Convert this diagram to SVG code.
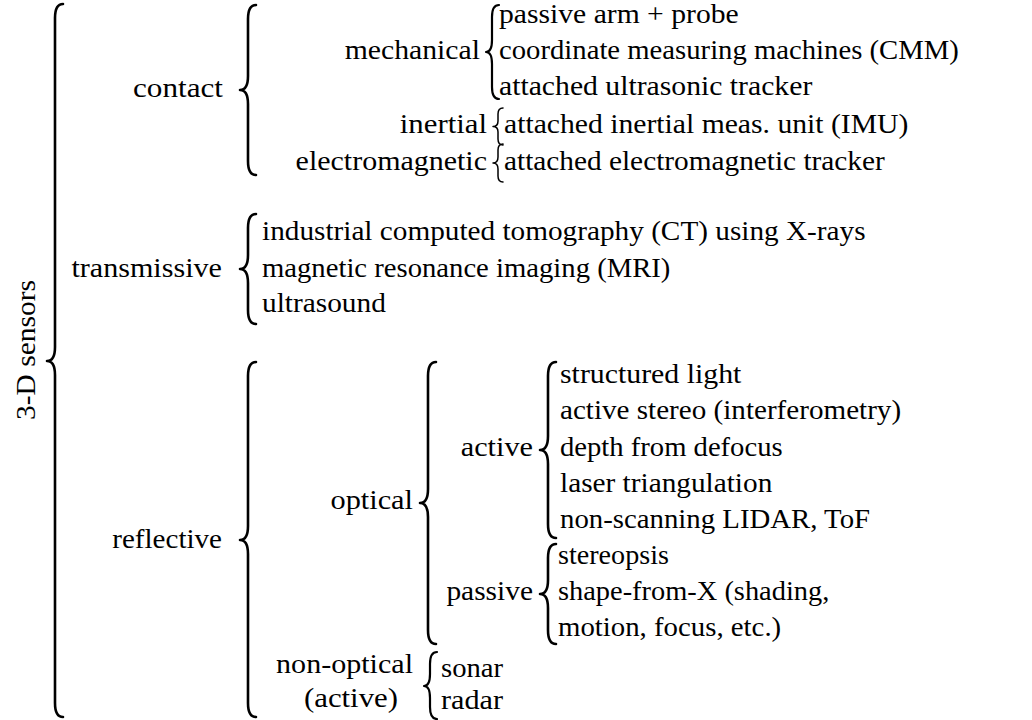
<svg xmlns="http://www.w3.org/2000/svg" width="1032" height="720" viewBox="0 0 1032 720">
<style>
.t text{font-family:'Liberation Serif','Times New Roman','DejaVu Serif',serif;font-size:27px;fill:#000}
.r{text-anchor:end}
.m{text-anchor:middle}
.b{fill:none;stroke:#000;stroke-width:2.6;stroke-linecap:round;stroke-linejoin:round}
.bm{fill:none;stroke:#000;stroke-width:2.2;stroke-linecap:round;stroke-linejoin:round}
.bs{fill:none;stroke:#000;stroke-width:1.5;stroke-linecap:round;stroke-linejoin:round}
</style>
<rect width="1032" height="720" fill="#fff"/>
<g id="connectors">
<path class="b" d="M63,4 Q55,4 55,18 L55,347 Q55,361 47,361 Q55,361 55,375 L55,703 Q55,717 63,717"/>
<path class="b" d="M256,5 Q248,5 248,19 L248,76 Q248,90 240,90 Q248,90 248,104 L248,161 Q248,175 256,175"/>
<path class="b" d="M256,214 Q248,214 248,228 L248,255 Q248,269 240,269 Q248,269 248,283 L248,310 Q248,324 256,324"/>
<path class="b" d="M256,362 Q248,362 248,376 L248,526 Q248,540 240,540 Q248,540 248,554 L248,703 Q248,717 256,717"/>
<path class="bm" d="M499,5 Q492,5 492,17 L492,40 Q492,52 486,52 Q492,52 492,64 L492,87 Q492,99 499,99"/>
<path class="bs" d="M503,108 Q498,108 498,114 L498,121 Q498,126.5 493,126.5 Q498,126.5 498,132 L498,139 Q498,145 503,145"/>
<path class="bs" d="M503,144 Q498,144 498,150 L498,157 Q498,163 493,163 Q498,163 498,169 L498,176 Q498,182 503,182"/>
<path class="b" d="M436,362 Q428,362 428,376 L428,489 Q428,503 420,503 Q428,503 428,517 L428,630 Q428,644 436,644"/>
<path class="b" d="M556,362 Q548,362 548,376 L548,436 Q548,450 540,450 Q548,450 548,464 L548,524 Q548,538 556,538"/>
<path class="b" d="M556,544 Q548,544 548,558 L548,580 Q548,594 540,594 Q548,594 548,608 L548,630 Q548,644 556,644"/>
<path class="bm" d="M437,652 Q430,652 430,664 L430,674 Q430,686 424,686 Q430,686 430,698 L430,707 Q430,719 437,719"/>
</g>
<g class="t">
<g id="n-3d"><text class="m" transform="translate(35,350) rotate(-90)" textLength="140" lengthAdjust="spacingAndGlyphs">3-D sensors</text></g>
<g id="n-contact"><text class="r" x="223" y="97" textLength="90" lengthAdjust="spacingAndGlyphs">contact</text></g>
<g id="n-transmissive"><text class="r" x="222" y="277" textLength="150.6" lengthAdjust="spacingAndGlyphs">transmissive</text></g>
<g id="n-reflective"><text class="r" x="222" y="548" textLength="109.7" lengthAdjust="spacingAndGlyphs">reflective</text></g>
<g id="n-mechanical"><text class="r" x="480" y="59" textLength="135.3" lengthAdjust="spacingAndGlyphs">mechanical</text></g>
<g id="n-inertial"><text class="r" x="487" y="133" textLength="87.2" lengthAdjust="spacingAndGlyphs">inertial</text></g>
<g id="n-electromagnetic"><text class="r" x="487" y="170" textLength="191.4" lengthAdjust="spacingAndGlyphs">electromagnetic</text></g>
<g id="n-optical"><text class="r" x="413" y="509" textLength="82.5" lengthAdjust="spacingAndGlyphs">optical</text></g>
<g id="n-active"><text class="r" x="533" y="456" textLength="72.3" lengthAdjust="spacingAndGlyphs">active</text></g>
<g id="n-passive"><text class="r" x="533" y="600" textLength="86.6" lengthAdjust="spacingAndGlyphs">passive</text></g>
<g id="n-nonoptical"><text class="r" x="413" y="673" textLength="136.9" lengthAdjust="spacingAndGlyphs">non-optical</text><text class="m" x="351" y="707" textLength="94.1" lengthAdjust="spacingAndGlyphs">(active)</text></g>
<g id="l-mech1"><text x="499" y="23" textLength="239.7" lengthAdjust="spacingAndGlyphs">passive arm + probe</text></g>
<g id="l-mech2"><text x="499" y="59" textLength="459.8" lengthAdjust="spacingAndGlyphs">coordinate measuring machines (CMM)</text></g>
<g id="l-mech3"><text x="499" y="95" textLength="313.3" lengthAdjust="spacingAndGlyphs">attached ultrasonic tracker</text></g>
<g id="l-imu"><text x="504" y="133" textLength="404.4" lengthAdjust="spacingAndGlyphs">attached inertial meas. unit (IMU)</text></g>
<g id="l-em"><text x="504" y="170" textLength="380.8" lengthAdjust="spacingAndGlyphs">attached electromagnetic tracker</text></g>
<g id="l-ct"><text x="262" y="240" textLength="603.6" lengthAdjust="spacingAndGlyphs">industrial computed tomography (CT) using X-rays</text></g>
<g id="l-mri"><text x="262" y="277" textLength="408.4" lengthAdjust="spacingAndGlyphs">magnetic resonance imaging (MRI)</text></g>
<g id="l-us"><text x="262" y="312" textLength="123.9" lengthAdjust="spacingAndGlyphs">ultrasound</text></g>
<g id="l-sl"><text x="560" y="383" textLength="181.4" lengthAdjust="spacingAndGlyphs">structured light</text></g>
<g id="l-as"><text x="560" y="419" textLength="341.1" lengthAdjust="spacingAndGlyphs">active stereo (interferometry)</text></g>
<g id="l-dfd"><text x="560" y="456" textLength="222.6" lengthAdjust="spacingAndGlyphs">depth from defocus</text></g>
<g id="l-lt"><text x="560" y="492" textLength="212.3" lengthAdjust="spacingAndGlyphs">laser triangulation</text></g>
<g id="l-lidar"><text x="560" y="528" textLength="310.1" lengthAdjust="spacingAndGlyphs">non-scanning LIDAR, ToF</text></g>
<g id="l-stereo"><text x="558" y="564" textLength="110.9" lengthAdjust="spacingAndGlyphs">stereopsis</text></g>
<g id="l-sfx"><text x="558" y="600" textLength="271.3" lengthAdjust="spacingAndGlyphs">shape-from-X (shading,</text><text x="558" y="636" textLength="223.2" lengthAdjust="spacingAndGlyphs">motion, focus, etc.)</text></g>
<g id="l-sonar"><text x="441" y="677" textLength="62.1" lengthAdjust="spacingAndGlyphs">sonar</text></g>
<g id="l-radar"><text x="441" y="709" textLength="62" lengthAdjust="spacingAndGlyphs">radar</text></g>
</g>
</svg>
